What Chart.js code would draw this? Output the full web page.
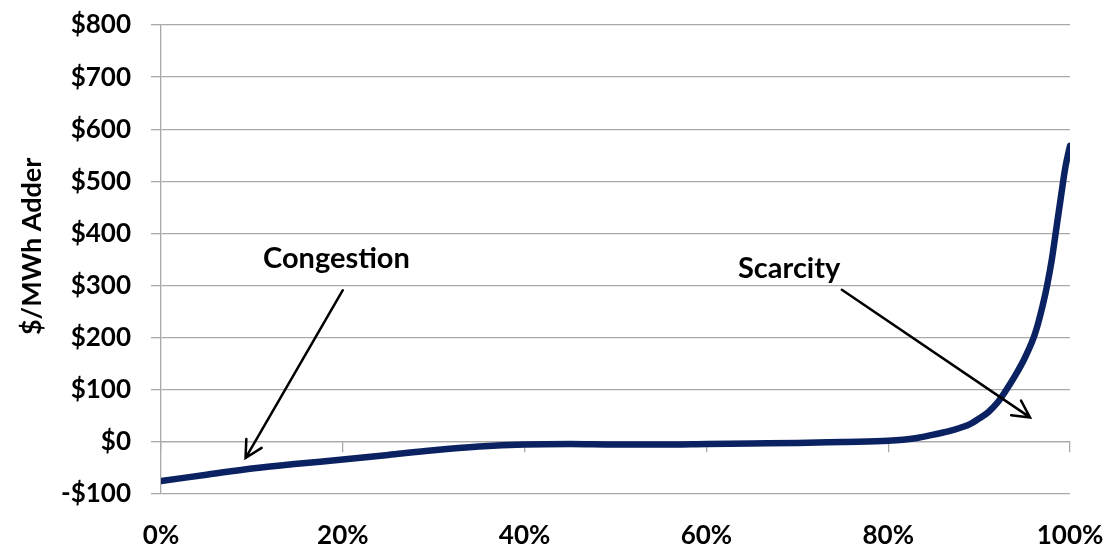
<!DOCTYPE html>
<html>
<head>
<meta charset="utf-8">
<script src="https://cdn.jsdelivr.net/npm/chart.js@4"></script>
<style>
  html, body { margin: 0; padding: 0; background: #fff; }
  #wrap { width: 1110px; height: 550px; }
</style>
</head>
<body>
<div id="wrap"><canvas id="c" width="1110" height="550"></canvas></div>
<script>
// Share of hours (%), sorted, and the $/MWh adder at each point
const percentiles = [0, 5, 10, 15, 20, 25, 30, 35, 40, 45, 50, 55, 60, 65, 70, 75, 80, 83, 85, 87, 89, 90, 91, 92, 93, 94, 95, 96, 96.5, 97, 97.5, 98, 98.5, 99, 99.5, 100];
const adders      = [-75, -63, -51, -42, -34, -25, -16, -9, -5, -4, -5, -5, -4, -3, -2, 0, 2, 7, 14, 22, 34, 45, 57, 75, 100, 128, 160, 200, 228, 262, 302, 350, 410, 470, 528, 568];

// Axis ranges and tick steps
const yTicks = { min: -100, max: 800, step: 100 };
const xTicks = { min: 0, max: 100, step: 20 };

// Callout labels with their arrows, in data units (x = %, y = $/MWh)
const calloutText  = ['Congestion', 'Scarcity'];
const calloutLabel = [[19.3, 351], [69.1, 333]];
const calloutTail  = [[20.0, 291], [74.9, 292]];
const calloutHead  = [[9.3, -31], [95.6, 47]];

const FONT = 'Lato, "Open Sans", sans-serif';
const GRID = '#a9a9a9';

const callouts = {
  id: 'callouts',
  afterDatasetsDraw(chart) {
    const { ctx, scales: { x, y } } = chart;
    ctx.save();
    ctx.fillStyle = '#000';
    ctx.strokeStyle = '#000';
    ctx.lineWidth = 2.5;
    ctx.lineCap = 'round';
    ctx.font = 'bold 29px ' + FONT;
    ctx.textAlign = 'center';
    ctx.textBaseline = 'middle';
    calloutText.forEach((t, i) => {
      ctx.fillText(t, x.getPixelForValue(calloutLabel[i][0]), y.getPixelForValue(calloutLabel[i][1]));
      const x0 = x.getPixelForValue(calloutTail[i][0]), y0 = y.getPixelForValue(calloutTail[i][1]);
      const x1 = x.getPixelForValue(calloutHead[i][0]), y1 = y.getPixelForValue(calloutHead[i][1]);
      const a = Math.atan2(y1 - y0, x1 - x0);
      const L = 19, spread = Math.PI / 6.5;
      ctx.beginPath();
      ctx.moveTo(x0, y0);
      ctx.lineTo(x1, y1);
      ctx.moveTo(x1 - L * Math.cos(a - spread), y1 - L * Math.sin(a - spread));
      ctx.lineTo(x1, y1);
      ctx.lineTo(x1 - L * Math.cos(a + spread), y1 - L * Math.sin(a + spread));
      ctx.stroke();
    });
    ctx.restore();
  }
};

new Chart(document.getElementById('c'), {
  type: 'line',
  data: {
    datasets: [{
      data: percentiles.map((p, i) => ({ x: p, y: adders[i] })),
      borderColor: '#0b2262',
      borderWidth: 6.5,
      pointRadius: 0,
      cubicInterpolationMode: 'monotone',
      borderCapStyle: 'round',
      borderJoinStyle: 'round',
      fill: false
    }]
  },
  options: {
    responsive: false,
    animation: false,
    events: [],
    layout: { padding: { left: 0, right: 40, top: 25, bottom: 0 } },
    plugins: { legend: { display: false }, tooltip: { enabled: false } },
    scales: {
      x: {
        type: 'linear',
        position: 'bottom',
        min: xTicks.min, max: xTicks.max,
        grid: { display: false, drawTicks: false },
        border: { display: false },
        ticks: {
          stepSize: xTicks.step,
          padding: 26,
          color: '#000',
          font: { family: FONT, size: 26, weight: 'bold' },
          callback: v => v + '%'
        },
        afterFit(s) { s.height = 56; s.paddingLeft = 0; s.paddingRight = 0; }
      },
      xZero: {
        type: 'linear',
        position: { y: 0 },
        min: xTicks.min, max: xTicks.max,
        grid: { drawOnChartArea: false, drawTicks: true, tickLength: 10, color: GRID, lineWidth: 1.3 },
        border: { display: true, color: GRID, width: 1.3 },
        ticks: { stepSize: xTicks.step, display: false },
        afterFit(s) { s.paddingLeft = 0; s.paddingRight = 0; }
      },
      y: {
        min: yTicks.min, max: yTicks.max,
        grid: { color: GRID, lineWidth: 1.3, tickLength: 10 },
        border: { display: true, color: GRID, width: 1.3 },
        ticks: {
          stepSize: yTicks.step,
          padding: 20,
          color: '#000',
          font: { family: FONT, size: 26, weight: 'bold' },
          callback: v => (v < 0 ? '-$' + Math.abs(v) : '$' + v)
        },
        title: {
          display: true,
          text: '    $/MWh Adder',
          color: '#000',
          font: { family: FONT, size: 27, weight: 'bold' },
          padding: { top: 16, bottom: 0 }
        },
        afterFit(s) { s.width = 161; s.paddingTop = 0; s.paddingBottom = 0; }
      }
    }
  },
  plugins: [callouts]
});
</script>
</body>
</html>
